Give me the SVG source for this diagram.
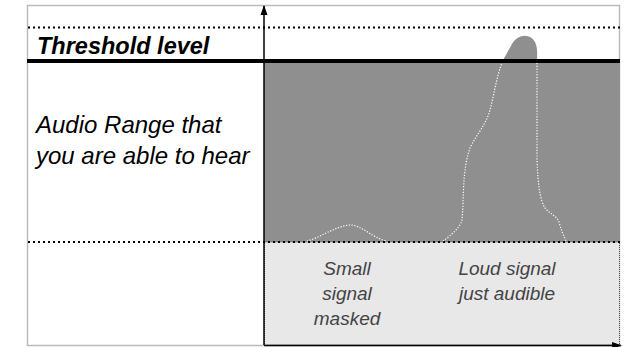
<svg xmlns="http://www.w3.org/2000/svg" width="627" height="347" viewBox="0 0 627 347">
<style>
.dot{stroke:#000;stroke-width:2;stroke-dasharray:2 3;fill:none}
.wdot{stroke:#fff;stroke-width:1.2;stroke-dasharray:1.2 1.6;fill:none}
.lbl{font-family:"Liberation Sans",Arial,sans-serif;font-style:italic;fill:#000}
.sm{font-family:"Liberation Sans",Arial,sans-serif;font-style:italic;font-size:19px;fill:#444;text-anchor:middle}
</style>
<defs>
<marker id="arr" markerWidth="10" markerHeight="10" refX="9" refY="5" orient="auto" markerUnits="userSpaceOnUse">
<path d="M0,1.5 L10,5 L0,8.5 Z" fill="#000"/>
</marker>
</defs>
<rect x="0" y="0" width="627" height="347" fill="#fff"/>
<g id="frame">
<rect x="27.5" y="5.5" width="592" height="340" fill="#fff" stroke="#bbb" stroke-width="1.5"/>
</g>
<g id="audible-area">
<rect x="264" y="63" width="356" height="179" fill="#8f8f8f"/>
<path d="M502,62 L512,44 C518,34 530,33 535,42 C538,48 537,55 537,62 Z" fill="#8f8f8f"/>
</g>
<g id="masked-area">
<rect x="264.5" y="242" width="355" height="103" fill="#e8e8e8" stroke="#555" stroke-width="1" stroke-dasharray="1 1"/>
</g>
<g id="signals">
<path class="wdot" d="M307,241 C320,238 335,226 350,225 C362,225 372,238 387,241"/>
<path class="wdot" d="M443,241 C450,236 460,228 462,220 C464,200 462,170 470,148 C476,135 486,125 490,110 C494,95 497,75 502,63"/>
<path class="wdot" d="M537,63 L537,160 C538,185 540,200 545,208 C550,214 557,216 559,222 C561,230 564,236 566,241"/>
</g>
<g id="lines">
<line class="dot" x1="28" y1="27.5" x2="620" y2="27.5"/>
<line class="dot" x1="28" y1="242" x2="620" y2="242"/>
<rect x="27" y="59" width="593" height="4" fill="#000"/>
</g>
<g id="axes">
<line x1="264" y1="345" x2="264" y2="6" stroke="#000" stroke-width="1.5" marker-end="url(#arr)"/>
<line x1="264" y1="345.5" x2="621" y2="345.5" stroke="#000" stroke-width="1.5" marker-end="url(#arr)"/>
</g>
<g id="labels">
<text class="lbl" x="37" y="54" font-size="23.5" font-weight="bold">Threshold level</text>
<text class="lbl" x="36" y="133" font-size="24">Audio Range that</text>
<text class="lbl" x="36" y="164" font-size="24">you are able to hear</text>
<text class="sm" x="347" y="275">Small</text>
<text class="sm" x="347" y="300">signal</text>
<text class="sm" x="347" y="325">masked</text>
<text class="sm" x="507" y="275">Loud signal</text>
<text class="sm" x="507" y="300">just audible</text>
</g>
</svg>
